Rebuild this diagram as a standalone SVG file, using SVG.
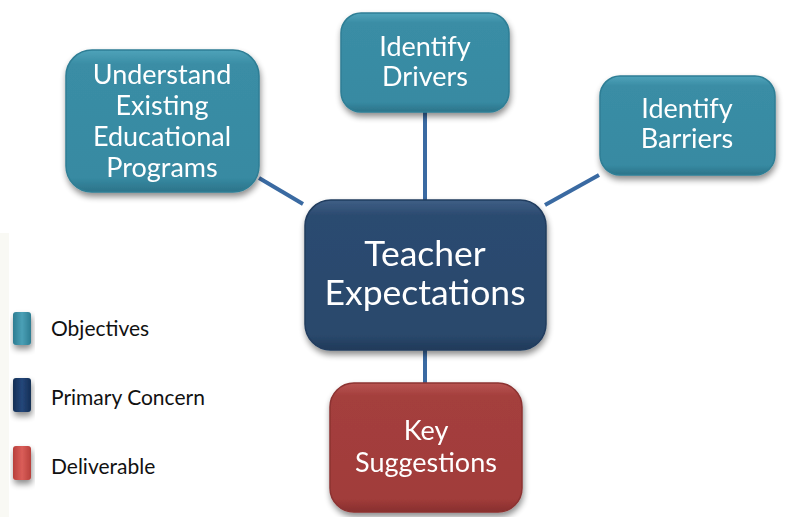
<svg xmlns="http://www.w3.org/2000/svg" width="798" height="517" viewBox="0 0 798 517">
<defs>
<filter id="sh" x="-20%" y="-20%" width="140%" height="150%">
<feGaussianBlur in="SourceAlpha" stdDeviation="3"/>
<feOffset dx="1" dy="4" result="b"/>
<feComponentTransfer><feFuncA type="linear" slope="0.45"/></feComponentTransfer>
<feMerge><feMergeNode/><feMergeNode in="SourceGraphic"/></feMerge>
</filter>
<linearGradient id="gT" x1="0" y1="0" x2="0" y2="1">
<stop offset="0" stop-color="#4FA3BA"/><stop offset="0.1" stop-color="#3A8DA5"/><stop offset="0.9" stop-color="#378AA2"/><stop offset="1" stop-color="#2C7389"/>
</linearGradient>
<linearGradient id="gN" x1="0" y1="0" x2="0" y2="1">
<stop offset="0" stop-color="#3F5F86"/><stop offset="0.1" stop-color="#2C4B70"/><stop offset="0.9" stop-color="#2A486C"/><stop offset="1" stop-color="#203A59"/>
</linearGradient>
<linearGradient id="gR" x1="0" y1="0" x2="0" y2="1">
<stop offset="0" stop-color="#B85452"/><stop offset="0.1" stop-color="#A43F3D"/><stop offset="0.9" stop-color="#A13C3A"/><stop offset="1" stop-color="#872F2E"/>
</linearGradient>
<linearGradient id="lT" x1="0" y1="0" x2="1" y2="0">
<stop offset="0" stop-color="#2E7D92"/><stop offset="0.5" stop-color="#4AA0B6"/><stop offset="1" stop-color="#2E7D92"/>
</linearGradient>
<linearGradient id="lN" x1="0" y1="0" x2="1" y2="0">
<stop offset="0" stop-color="#142F55"/><stop offset="0.5" stop-color="#24477A"/><stop offset="1" stop-color="#142F55"/>
</linearGradient>
<linearGradient id="lR" x1="0" y1="0" x2="1" y2="0">
<stop offset="0" stop-color="#B8403C"/><stop offset="0.5" stop-color="#DA5E59"/><stop offset="1" stop-color="#B8403C"/>
</linearGradient>
</defs>
<style>
.t{font-family:Lato,"Open Sans","Liberation Sans",sans-serif;fill:#fff;text-anchor:middle}
.n{font-size:27px}
.c{font-size:35.5px}
.lg{font-family:Lato,"Open Sans","Liberation Sans",sans-serif;font-size:21px;fill:#111}
.edge{stroke:#3A6AA2;stroke-width:4;fill:none}
.sT{fill:url(#gT);stroke:#2E7E95;stroke-width:1.5}
.sN{fill:url(#gN);stroke:#203C5E;stroke-width:1.5}
.sR{fill:url(#gR);stroke:#8C3331;stroke-width:1.5}
</style>
<rect x="0" y="0" width="798" height="517" fill="#fff"/>
<rect x="0" y="233" width="9" height="284" fill="#F9F9F4"/>
<g id="connectors">
<line class="edge" x1="259" y1="178" x2="303" y2="204"/>
<line class="edge" x1="425" y1="112" x2="425" y2="200"/>
<line class="edge" x1="545" y1="205" x2="599" y2="175"/>
<line class="edge" x1="425" y1="350" x2="425" y2="383"/>
</g>
<g id="n-understand" filter="url(#sh)">
<rect class="sT" x="66" y="50" width="193" height="142" rx="26"/>
<text class="t n" x="162" y="84">Understand</text>
<text class="t n" x="162" y="115">Existing</text>
<text class="t n" x="162" y="146">Educational</text>
<text class="t n" x="162" y="177">Programs</text>
</g>
<g id="n-drivers" filter="url(#sh)">
<rect class="sT" x="341" y="13" width="168" height="99" rx="20"/>
<text class="t n" x="425" y="56">Identify</text>
<text class="t n" x="425" y="86">Drivers</text>
</g>
<g id="n-barriers" filter="url(#sh)">
<rect class="sT" x="600" y="76" width="175" height="99" rx="20"/>
<text class="t n" x="687" y="118">Identify</text>
<text class="t n" x="687" y="148">Barriers</text>
</g>
<g id="n-teacher" filter="url(#sh)">
<rect class="sN" x="305" y="200" width="241" height="150" rx="26"/>
<text class="t c" x="425" y="266">Teacher</text>
<text class="t c" x="425" y="305">Expectations</text>
</g>
<g id="n-key" filter="url(#sh)">
<rect class="sR" x="330" y="383" width="192" height="129" rx="24"/>
<text class="t n" x="426" y="440">Key</text>
<text class="t n" x="426" y="472">Suggestions</text>
</g>
<g id="legend">
<g filter="url(#sh)">
<rect x="13" y="312" width="18" height="33" rx="3" fill="url(#lT)"/>
<rect x="13" y="378" width="18" height="34" rx="3" fill="url(#lN)"/>
<rect x="13" y="446" width="18" height="34" rx="3" fill="url(#lR)"/>
</g>
<text class="lg" x="51" y="336">Objectives</text>
<text class="lg" x="51" y="405">Primary Concern</text>
<text class="lg" x="51" y="474">Deliverable</text>
</g>
</svg>
